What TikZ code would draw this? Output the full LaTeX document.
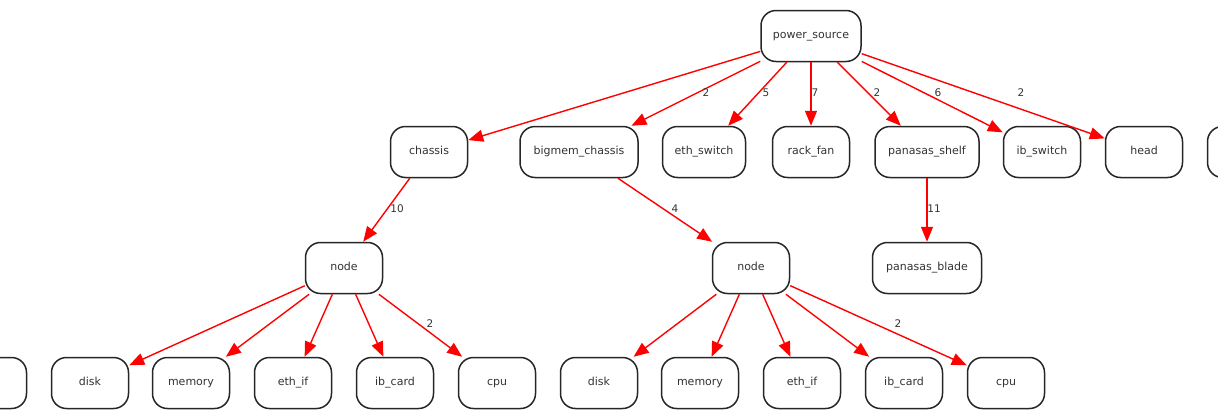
\documentclass[tikz,border=0pt]{standalone}
\usepackage{fontspec}
\setmainfont{DejaVu Sans}
\usetikzlibrary{arrows.meta}
\begin{document}
\begin{tikzpicture}[x=1pt,y=-1pt,
  box/.style={draw=black!85, line width=1.5pt, rounded corners=15pt, minimum height=51pt, minimum width=77pt, inner sep=0pt, text height=8pt, text depth=2.2pt, font=\fontsize{11}{13}\selectfont, text=black!80, fill=white},
  edge/.style={draw=red, line width=1.4pt, -{Triangle[length=15pt,width=12pt]}},
  lbl/.style={font=\fontsize{10.5}{12}\selectfont, text=black!80, inner sep=0pt}]
\clip (0,0) rectangle (1218,410);
\useasboundingbox (0,0) rectangle (1218,410);
% top
\node[box, minimum width=100pt] (ps) at (811,36) {power\_source};
% second row
\node[box] (chassis) at (429,152) {chassis};
\node[box, minimum width=118pt] (bigmem) at (579,152) {bigmem\_chassis};
\node[box, minimum width=83pt] (eths) at (704,152) {eth\_switch};
\node[box] (rackfan) at (811,152) {rack\_fan};
\node[box, minimum width=104pt] (pshelf) at (927,152) {panasas\_shelf};
\node[box] (ibs) at (1042,152) {ib\_switch};
\node[box] (head) at (1144,152) {head};
\node[box] (rpart) at (1246,152) {};
% third row
\node[box] (node1) at (344,268) {node};
\node[box] (node2) at (751,268) {node};
\node[box, minimum width=109pt] (pblade) at (927,268) {panasas\_blade};
% bottom row
\node[box] (lpart) at (-12,383) {};
\node[box] (disk1) at (90,383) {disk};
\node[box] (mem1) at (191,383) {memory};
\node[box] (eth1) at (293,383) {eth\_if};
\node[box] (ib1) at (395,383) {ib\_card};
\node[box] (cpu1) at (497,383) {cpu};
\node[box] (disk2) at (599,383) {disk};
\node[box] (mem2) at (700,383) {memory};
\node[box] (eth2) at (802,383) {eth\_if};
\node[box] (ib2) at (904,383) {ib\_card};
\node[box] (cpu2) at (1006,383) {cpu};
% edges
\draw[edge] (ps) -- (chassis);
\draw[edge] (ps) -- (bigmem);
\draw[edge] (ps) -- (eths);
\draw[edge] (ps) -- (rackfan);
\draw[edge] (ps) -- (pshelf);
\draw[edge] (ps) -- (ibs);
\draw[edge] (ps) -- (head);
\draw[edge] (chassis) -- (node1);
\draw[edge] (bigmem) -- (node2);
\draw[edge] (pshelf) -- (pblade);
\draw[edge] (node1) -- (disk1);
\draw[edge] (node1) -- (mem1);
\draw[edge] (node1) -- (eth1);
\draw[edge] (node1) -- (ib1);
\draw[edge] (node1) -- (cpu1);
\draw[edge] (node2) -- (disk2);
\draw[edge] (node2) -- (mem2);
\draw[edge] (node2) -- (eth2);
\draw[edge] (node2) -- (ib2);
\draw[edge] (node2) -- (cpu2);
% labels
\node[lbl] (l1) at (706,93) {2};
\node[lbl] (l2) at (766,93) {5};
\node[lbl] (l3) at (815,93) {7};
\node[lbl] (l4) at (877,93) {2};
\node[lbl] (l5) at (938,93) {6};
\node[lbl] (l6) at (1021,93) {2};
\node[lbl] (l7) at (397,209) {10};
\node[lbl] (l8) at (675,209) {4};
\node[lbl] (l9) at (934,209) {11};
\node[lbl] (l10) at (430,324) {2};
\node[lbl] (l11) at (898,324) {2};
\end{tikzpicture}
\end{document}
